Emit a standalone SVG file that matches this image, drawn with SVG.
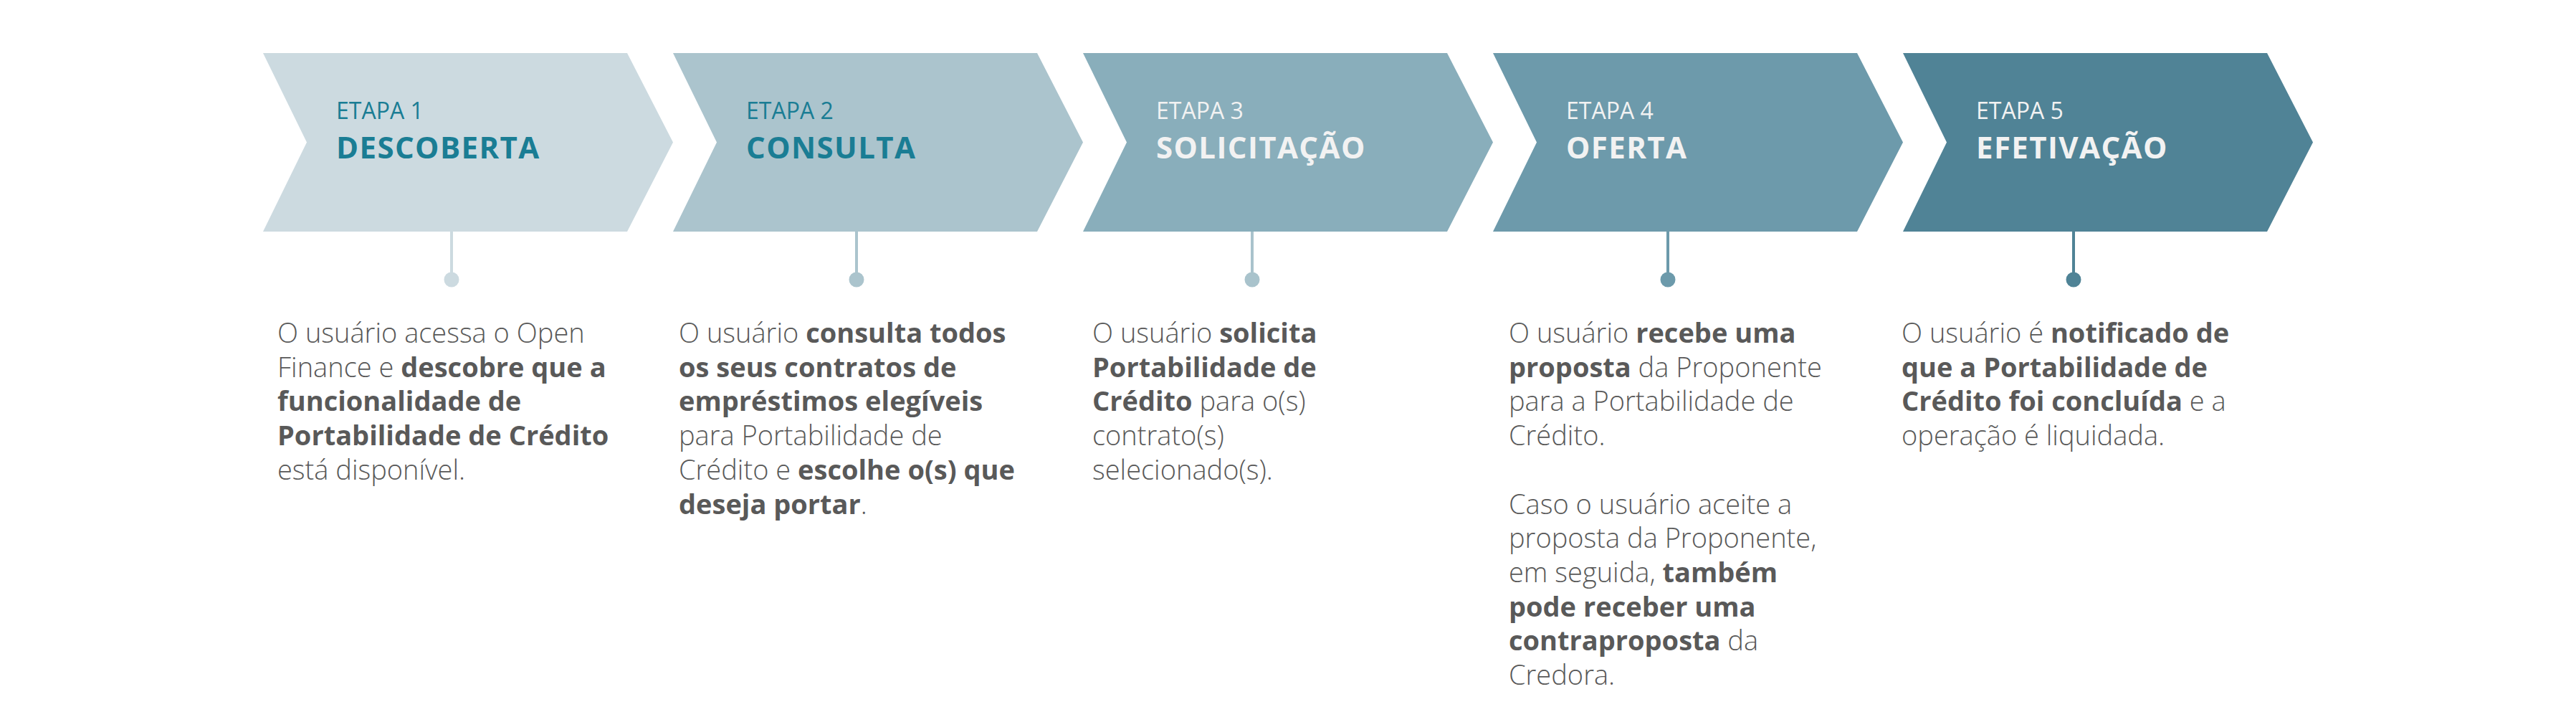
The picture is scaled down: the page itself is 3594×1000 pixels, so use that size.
<svg xmlns="http://www.w3.org/2000/svg" width="3594" height="1000" viewBox="0 0 3594 1000">
<style>
.etapa{font-family:"Open Sans","Liberation Sans",sans-serif;font-size:32px;font-weight:400}
.title{font-family:"Open Sans","Liberation Sans",sans-serif;font-size:42px;font-weight:700;letter-spacing:1.4px}
.dark{fill:#1A7D94}
.light{fill:#F2F2F2}
.body{font-family:"Open Sans","Liberation Sans",sans-serif;font-size:38px;font-weight:300;fill:#595959}
.b{font-weight:700}
.conn{stroke-width:4;fill:none}
</style>
<defs>
<polygon id="chev" points="0,74 508,74 572,198.5 508,323 0,323 61,198.5"/>
</defs>
<rect width="3594" height="1000" fill="#FFFFFF"/>
<g id="connectors">
<line class="conn" x1="630" y1="323" x2="630" y2="388" stroke="#CCDAE0"/>
<circle cx="630" cy="390" r="10.5" fill="#CCDAE0"/>
<line class="conn" x1="1195" y1="323" x2="1195" y2="388" stroke="#ABC4CD"/>
<circle cx="1195" cy="390" r="10.5" fill="#ABC4CD"/>
<line class="conn" x1="1747" y1="323" x2="1747" y2="388" stroke="#A9C3CC"/>
<circle cx="1747" cy="390" r="10.5" fill="#A9C3CC"/>
<line class="conn" x1="2327" y1="323" x2="2327" y2="388" stroke="#6C9AAB"/>
<circle cx="2327" cy="390" r="10.5" fill="#6C9AAB"/>
<line class="conn" x1="2893" y1="323" x2="2893" y2="388" stroke="#4F8396"/>
<circle cx="2893" cy="390" r="10.5" fill="#4F8396"/>
</g>
<g id="etapa1">
<use href="#chev" x="367" fill="#CCDAE0"/>
<text class="etapa dark" x="469" y="166">ETAPA 1</text>
<text class="title dark" x="469" y="221">DESCOBERTA</text>
<text class="body" x="387" y="478">O usuário acessa o Open</text>
<text class="body" x="387" y="525.7">Finance e <tspan class="b">descobre que a</tspan></text>
<text class="body b" x="387" y="573.4">funcionalidade de</text>
<text class="body b" x="387" y="621.1">Portabilidade de Crédito</text>
<text class="body" x="387" y="668.8">está disponível.</text>
</g>
<g id="etapa2">
<use href="#chev" x="939" fill="#ABC4CD"/>
<text class="etapa dark" x="1041" y="166">ETAPA 2</text>
<text class="title dark" x="1041" y="221">CONSULTA</text>
<text class="body" x="947" y="478">O usuário <tspan class="b">consulta todos</tspan></text>
<text class="body b" x="947" y="525.7">os seus contratos de</text>
<text class="body b" x="947" y="573.4">empréstimos elegíveis</text>
<text class="body" x="947" y="621.1">para Portabilidade de</text>
<text class="body" x="947" y="668.8">Crédito e <tspan class="b">escolhe o(s) que</tspan></text>
<text class="body" x="947" y="716.5"><tspan class="b">deseja portar</tspan>.</text>
</g>
<g id="etapa3">
<use href="#chev" x="1511" fill="#89AEBB"/>
<text class="etapa light" x="1613" y="166">ETAPA 3</text>
<text class="title light" x="1613" y="221">SOLICITAÇÃO</text>
<text class="body" x="1524" y="478">O usuário <tspan class="b">solicita</tspan></text>
<text class="body b" x="1524" y="525.7">Portabilidade de</text>
<text class="body" x="1524" y="573.4"><tspan class="b">Crédito</tspan> para o(s)</text>
<text class="body" x="1524" y="621.1">contrato(s)</text>
<text class="body" x="1524" y="668.8">selecionado(s).</text>
</g>
<g id="etapa4">
<use href="#chev" x="2083" fill="#6D9AAB"/>
<text class="etapa light" x="2185" y="166">ETAPA 4</text>
<text class="title light" x="2185" y="221">OFERTA</text>
<text class="body" x="2105" y="478">O usuário <tspan class="b">recebe uma</tspan></text>
<text class="body" x="2105" y="525.7"><tspan class="b">proposta</tspan> da Proponente</text>
<text class="body" x="2105" y="573.4">para a Portabilidade de</text>
<text class="body" x="2105" y="621.1">Crédito.</text>
<text class="body" x="2105" y="716.5">Caso o usuário aceite a</text>
<text class="body" x="2105" y="764.2">proposta da Proponente,</text>
<text class="body" x="2105" y="811.9">em seguida, <tspan class="b">também</tspan></text>
<text class="body b" x="2105" y="859.6">pode receber uma</text>
<text class="body" x="2105" y="907.3"><tspan class="b">contraproposta</tspan> da</text>
<text class="body" x="2105" y="955">Credora.</text>
</g>
<g id="etapa5">
<use href="#chev" x="2655" fill="#508396"/>
<text class="etapa light" x="2757" y="166">ETAPA 5</text>
<text class="title light" x="2757" y="221">EFETIVAÇÃO</text>
<text class="body" x="2653" y="478">O usuário é <tspan class="b">notificado de</tspan></text>
<text class="body b" x="2653" y="525.7">que a Portabilidade de</text>
<text class="body" x="2653" y="573.4"><tspan class="b">Crédito foi concluída</tspan> e a</text>
<text class="body" x="2653" y="621.1">operação é liquidada.</text>
</g>
</svg>
